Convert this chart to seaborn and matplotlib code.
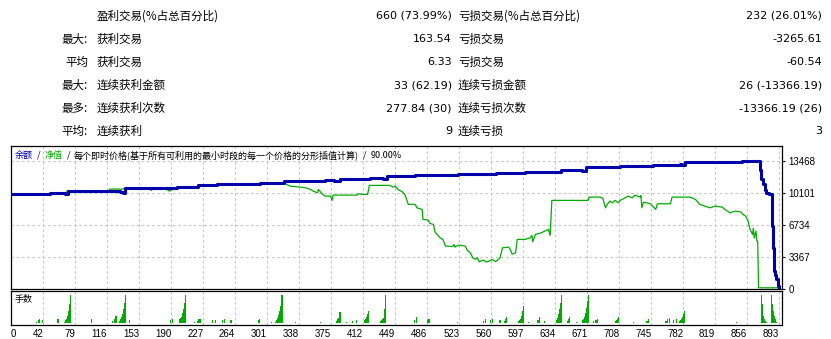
import matplotlib
matplotlib.use("Agg")
import matplotlib.pyplot as plt
import seaborn as sns
import numpy as np
import pandas as pd

# ---------------- data ----------------
row_prefix = ["", "最大:", "平均", "最大:", "最多:", "平均:"]
win_labels = ["盈利交易(%占总百分比)", "获利交易", "获利交易", "连续获利金额", "连续获利次数", "连续获利"]
win_values = ["660 (73.99%)", "163.54", "6.33", "33 (62.19)", "277.84 (30)", "9"]
loss_labels = ["亏损交易(%占总百分比)", "亏损交易", "亏损交易", "连续亏损金额", "连续亏损次数", "连续亏损"]
loss_values = ["232 (26.01%)", "-3265.61", "-60.54", "26 (-13366.19)", "-13366.19 (26)", "3"]

title_balance = "余额"
title_equity = "净值"
title_model = "每个即时价格(基于所有可利用的最小时段的每一个价格的分形插值计算)"
title_quality = "90.00%"
lots_label = "手数"

balance_trade = [0, 50, 67, 71, 131, 134, 137, 197, 221, 243, 293, 320, 368, 378, 385,
                 420, 435, 439, 472, 522, 565, 599, 640, 665, 669, 709, 747, 778, 781,
                 784, 850, 871, 872, 874, 876, 877, 878, 881, 885, 886, 887, 888, 889,
                 891, 893]
balance_value = [10000, 10107, 10000, 10318, 10212, 10050, 10603, 10708, 10919, 11056,
                 11162, 11373, 11478, 11400, 11584, 11690, 11580, 11901, 11975, 12080,
                 12185, 12322, 12502, 12420, 12850, 12955, 13029, 13135, 13050, 13314,
                 13468, 12500, 11552, 11000, 10814, 10400, 10107, 9938, 6594, 4304,
                 1846, 1400, 1002, 264, 0]

equity_trade = [0, 49, 50, 51, 66, 67, 70, 74, 76, 88, 90, 117, 119, 134, 137, 165, 167,
                169, 183, 188, 192, 197, 220, 221, 242, 243, 292, 293, 319,
                320, 327, 339, 345, 351, 354, 359, 360, 365, 368, 374, 376, 377, 405,
                406, 412, 417, 419, 443, 446, 449, 452, 457, 460, 464, 472, 474, 480,
                481, 487, 489, 493, 495, 499, 501, 504, 507, 515, 517, 518, 522, 530,
                532, 536, 539, 542, 544, 546, 551, 554, 559, 561, 565, 570, 573, 580,
                582, 584, 588, 590, 599, 605, 607, 608, 611, 617, 622, 626, 628, 629,
                630, 672, 673, 686, 689, 692, 694, 697, 700, 703, 707, 709, 715, 718,
                723, 726, 732, 733, 734, 736, 744, 750, 752, 767, 769, 790, 796, 801,
                807, 813, 819, 827, 830, 836, 842, 848, 851, 854, 857, 859, 862, 863,
                864, 866, 867, 868, 869, 893, 893]
equity_value = [10000, 10000, 9811, 10107, 10107, 9970, 10318, 10180, 10318, 10180, 10318,
                10318, 10497, 10497, 10603, 10603, 10339, 10603, 10530, 10286, 10497,
                10708, 10708, 10919, 10919, 11056, 11056, 11162, 11162,
                11162, 10814, 10708, 10634, 10466, 10286, 10107, 10466, 9938, 9759,
                9759, 9305, 9864, 9864, 10001, 9938, 9938, 10888, 10888, 10708, 10814,
                10466, 10212, 9938, 8883, 8883, 8524, 8356, 7301, 7227, 6879, 6773,
                5961, 5539, 5328, 5191, 4484, 4431, 4642, 4378, 4589, 4484, 4062, 3745,
                3186, 3112, 3249, 2827, 3007, 2796, 2954, 3081, 2849, 3218, 4304, 4378,
                4136, 3640, 3777, 5191, 5191, 5359, 5613, 4937, 5718, 5855, 6066, 6246,
                5613, 7469, 9305, 9305, 9653, 9653, 9516, 8524, 8883, 9231, 9052, 9305,
                9052, 9305, 9579, 9759, 9579, 9864, 9653, 9812, 8524, 9126, 8946, 8356,
                8946, 8946, 9653, 9653, 9411, 8883, 8704, 8524, 8704, 8598, 8356, 7997,
                8176, 8102, 7828, 7649, 7121, 6277, 5718, 6383, 5328, 6066, 5011, 5011,
                84, 84, 0]

lot_trade = [34, 36, 38, 41, 59, 67, 68, 69, 70, 71, 72, 73, 98, 122, 124, 126,
             130, 131, 132, 133, 134, 135, 136, 137, 142, 189, 191,
             199, 200, 201, 202, 203, 204, 205, 206, 217, 220, 222, 224, 238, 241,
             249, 252, 259, 291, 292, 306, 311, 312, 313, 314, 315, 316, 317, 318,
             334, 363, 381, 382, 383, 384, 385, 393, 399, 404,
             413, 414, 415, 416, 417, 418, 432, 433, 434, 435, 436, 437, 438,
             471, 473, 486, 488, 521, 551, 553, 559, 561, 570, 575, 576, 577, 578,
             592, 593, 594, 595, 596, 597, 603, 614, 616, 621,
             635, 636, 637, 638, 639, 640, 641, 648, 649, 650, 658,
             665, 666, 667, 668, 669, 670, 671, 672, 678, 681, 683,
             704, 705, 706, 707, 724, 740, 742, 762, 764, 766, 771, 774,
             778, 779, 780, 781, 782, 783, 843,
             872, 873, 874, 875, 876, 877, 878, 884, 885, 886, 887, 888, 889, 890]
lot_size = [0.05, 0.12, 0.15, 0.12, 0.19, 0.05, 0.12, 0.19, 0.31, 0.54, 0.85, 1.28, 0.19,
            0.08, 0.19, 0.31,
            0.08, 0.15, 0.23, 0.28, 0.39, 0.62, 0.93, 1.28, 0.12, 0.12, 0.19,
            0.08, 0.15, 0.20, 0.28, 0.43, 0.62, 0.93, 1.28, 0.05, 0.08, 0.15, 0.15,
            0.12, 0.12, 0.12, 0.15, 0.12, 0.12, 0.19, 0.05, 0.05, 0.12, 0.23, 0.34,
            0.54, 0.77, 1.00, 1.28,
            0.05, 0.05, 0.08, 0.15, 0.23, 0.34, 0.49, 0.05, 0.08, 0.12,
            0.05, 0.12, 0.19, 0.28, 0.39, 0.54, 0.08, 0.12, 0.15, 0.23, 0.31, 0.62, 1.28,
            0.12, 0.28, 0.12, 0.15, 0.05, 0.08, 0.15, 0.12, 0.19, 0.12, 0.08, 0.12,
            0.19, 0.28,
            0.08, 0.12, 0.19, 0.31, 0.54, 0.77, 0.05, 0.12, 0.28, 0.08,
            0.08, 0.12, 0.23, 0.39, 0.62, 0.93, 1.28, 0.08, 0.19, 0.28, 0.05,
            0.08, 0.12, 0.19, 0.28, 0.43, 0.69, 1.00, 1.28, 0.08, 0.12, 0.19,
            0.08, 0.12, 0.19, 0.28, 0.05, 0.08, 0.15, 0.08, 0.15, 0.23, 0.12, 0.19,
            0.08, 0.12, 0.19, 0.28, 0.39, 0.54, 0.05,
            1.28, 0.85, 0.54, 0.31, 0.19, 0.08, 0.05, 1.28, 0.85, 0.54, 0.31, 0.19,
            0.08, 0.05]

x_ticks = [42, 79, 116, 153, 190, 227, 264, 301, 338, 375, 412, 449, 486, 523, 560,
           597, 634, 671, 708, 745, 782, 819, 856, 893]
x_tick_labels = ["0"] + [str(v) for v in x_ticks]
y_ticks = [0, 3367, 6734, 10101, 13468]

# ---------------- style ----------------
BLUE = "#0000AA"
GREEN = "#00AA00"
GRID = "#C4C4C4"
W, H = 831, 339
XMIN, XMAX = 4.65, 896.1
CJK = ["Noto Sans CJK SC", "DejaVu Sans"]
plt.rcParams["font.family"] = ["DejaVu Sans", "Noto Sans CJK SC"]

fig = plt.figure(figsize=(W / 100, H / 100), dpi=100)


def fx(px):
    return px / W


def fy(py):
    return 1 - py / H


# ---------------- summary table ----------------
row_y = [16, 39, 62, 85, 108, 131]
for i, y in enumerate(row_y):
    fig.text(fx(88), fy(y), row_prefix[i], ha="right", va="center", fontsize=8.3,
             color="black", family=CJK)
    fig.text(fx(97), fy(y), win_labels[i], ha="left", va="center", fontsize=8.3,
             color="black", family=CJK)
    fig.text(fx(452), fy(y), win_values[i], ha="right", va="center", fontsize=8, color="black")
    fig.text(fx(458), fy(y), loss_labels[i], ha="left", va="center", fontsize=8.3,
             color="black", family=CJK)
    fig.text(fx(822), fy(y), loss_values[i], ha="right", va="center", fontsize=8, color="black")

# ---------------- main chart ----------------
ax = fig.add_axes([fx(11), fy(289), (782 - 11) / W, (289 - 146) / H])
ax2 = fig.add_axes([fx(11), fy(325), (782 - 11) / W, (325 - 291) / H])

eq_df = pd.DataFrame({"trade": equity_trade, "value": equity_value})
bal_df = pd.DataFrame({"trade": balance_trade, "value": balance_value})
lot_df = pd.DataFrame({"trade": lot_trade, "lot": lot_size})

sns.lineplot(data=eq_df, x="trade", y="value", ax=ax, color=GREEN, linewidth=0.9,
             estimator=None, sort=False, zorder=3)
sns.lineplot(data=bal_df, x="trade", y="value", ax=ax, color=BLUE, linewidth=2.2,
             estimator=None, sort=False, drawstyle="steps-post", zorder=4)

ax.set_xlim(XMIN, XMAX)
ax.set_ylim(-42, 15044)
ax.set_xlabel("")
ax.set_ylabel("")
ax.set_xticks(x_ticks)
ax.set_xticklabels([])
ax.tick_params(axis="x", length=0)
ax.yaxis.tick_right()
ax.set_yticks(y_ticks)
ax.set_yticklabels([str(v) for v in y_ticks], family="Liberation Sans", fontsize=7)
ax.tick_params(axis="y", length=2, width=0.8, pad=2.5, colors="black")
for v in y_ticks[1:]:
    ax.axhline(v, color=GRID, lw=0.75, ls=(0, (2.5, 2.5)), zorder=1)
for v in x_ticks:
    ax.axvline(v, color=GRID, lw=0.75, ls=(0, (2.5, 2.5)), zorder=1)
for s in ax.spines.values():
    s.set_color("black")
    s.set_linewidth(0.9)

# title with coloured parts
renderer = fig.canvas.get_renderer()
parts = [(title_balance, BLUE, 0), ("/", "black", 4), (title_equity, GREEN, 4), ("/", "black", 4),
         (title_model, "black", 4), ("/", "black", 4), (title_quality, "black", 4)]
xpos = 15
for txt, col, gap in parts:
    xpos += gap
    t = fig.text(fx(xpos), fy(155), txt, ha="left", va="center", fontsize=6.5, color=col,
                 family=CJK)
    xpos += t.get_window_extent(renderer).width

# ---------------- lots panel ----------------
sns.histplot(data=lot_df, x="trade", weights="lot", discrete=True, ax=ax2,
             color=GREEN, alpha=1.0, linewidth=0, zorder=3)
for p in ax2.patches:
    w = p.get_width()
    p.set_x(p.get_x() - 0.15 * w)
    p.set_width(1.3 * w)
ax2.set_xlim(XMIN, XMAX)
ax2.set_ylim(-0.106, 1.465)
ax2.set_ylabel("")
ax2.set_xlabel("")
ax2.set_yticks([])
for v in x_ticks:
    ax2.axvline(v, color=GRID, lw=0.75, ls=(0, (2.5, 2.5)), zorder=1)
ax2.set_xticks([XMIN] + x_ticks)
ax2.set_xticklabels(x_tick_labels, family="Liberation Sans", fontsize=7)
ax2.tick_params(axis="x", length=0, pad=3, colors="black")
for i, lab in enumerate(ax2.get_xticklabels()):
    lab.set_ha("left" if i == 0 else "right")
for s in ax2.spines.values():
    s.set_color("black")
    s.set_linewidth(0.9)
ax2.text(0.005, 0.76, lots_label, transform=ax2.transAxes, ha="left", va="center",
         fontsize=6.5, color="black", family=CJK)

fig.savefig("out.png", dpi=100)
